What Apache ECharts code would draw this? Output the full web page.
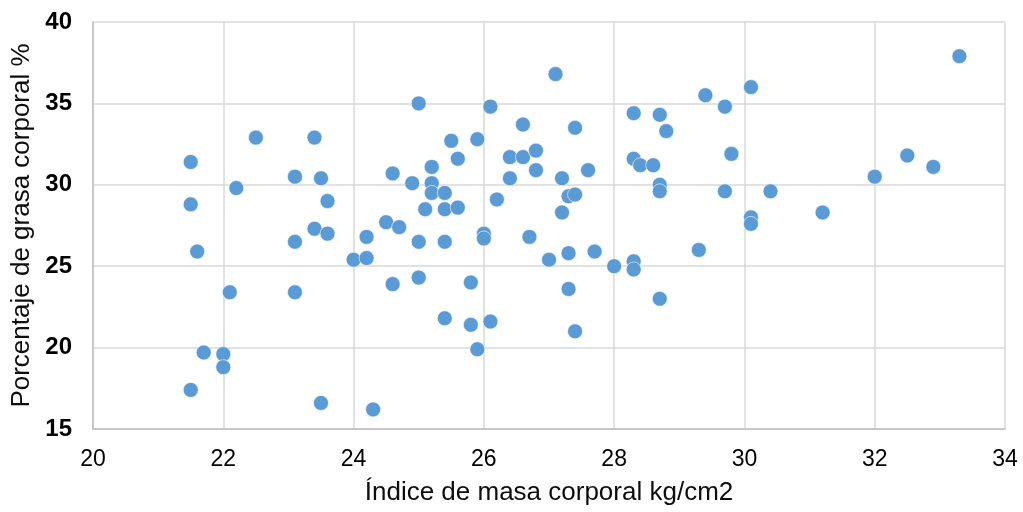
<!DOCTYPE html>
<html>
<head>
<meta charset="utf-8">
<script src="https://cdn.jsdelivr.net/npm/echarts@6/dist/echarts.min.js"></script>
<style>
html,body{margin:0;padding:0;background:#fff;}
#chart{width:1023px;height:512px;}
</style>
</head>
<body>
<div id="chart"></div>
<script>
const imc = [21.5,21.5,21.6,21.7,22.0,22.0,21.5,22.1,22.2,22.5,23.1,23.1,23.1,23.4,23.5,23.6,23.4,23.6,23.5,24.0,24.2,24.2,24.3,24.5,24.6,24.6,24.7,24.9,25.0,25.0,25.0,25.1,25.2,25.2,25.2,25.4,25.4,25.4,25.4,25.5,25.6,25.6,25.8,25.8,25.9,25.9,26.0,26.0,26.1,26.1,26.2,26.4,26.4,26.6,26.6,26.7,26.8,26.8,27.0,27.1,27.2,27.2,27.3,27.3,27.3,27.4,27.4,27.4,27.6,27.7,28.0,28.3,28.3,28.3,28.3,28.4,28.6,28.7,28.7,28.7,28.7,28.8,29.3,29.4,29.7,29.7,29.8,30.1,30.1,30.1,30.4,31.2,32.0,32.5,32.9,33.3];
const grasa = [31.4,28.8,25.9,19.7,19.6,18.8,17.4,23.4,29.8,32.9,30.5,26.5,23.4,32.9,30.4,29.0,27.3,27.0,16.6,25.4,26.8,25.5,16.2,27.7,30.7,23.9,27.4,30.1,35.0,26.5,24.3,28.5,31.1,30.1,29.5,29.5,28.5,26.5,21.8,32.7,31.6,28.6,24.0,21.4,32.8,19.9,27.0,26.7,34.8,21.6,29.1,31.7,30.4,33.7,31.7,26.8,32.1,30.9,25.4,36.8,30.4,28.3,29.3,25.8,23.6,33.5,29.4,21.0,30.9,25.9,25.0,34.4,31.6,25.3,24.8,31.2,31.2,34.3,30.0,29.6,23.0,33.3,26.0,35.5,34.8,29.6,31.9,36.0,28.0,27.6,29.6,28.3,30.5,31.8,31.1,37.9];
const xTitle = "Índice de masa corporal kg/cm2";
const yTitle = "Porcentaje de grasa corporal %";

const chart = echarts.init(document.getElementById('chart'), null, {renderer:'canvas'});
const font = "Liberation Sans, Arial, sans-serif";
chart.setOption({
  animation:false,
  grid:{left:93,right:18,top:22,bottom:83,containLabel:false},
  xAxis:{
    type:'value',min:20,max:34,interval:2,
    name:xTitle,nameLocation:'middle',nameGap:51,
    nameTextStyle:{fontFamily:font,fontSize:26,color:'#0d0d0d'},
    axisLine:{show:true,lineStyle:{color:'#bfbfbf',width:1.5}},
    axisTick:{show:false},
    axisLabel:{fontFamily:font,fontSize:23,color:'#000',margin:19},
    splitLine:{show:true,lineStyle:{color:'#d9d9d9',width:1.5}}
  },
  yAxis:{
    type:'value',min:15,max:40,interval:5,
    name:yTitle,nameLocation:'middle',nameGap:52,
    nameTextStyle:{fontFamily:font,fontSize:26,color:'#0d0d0d'},
    axisLine:{show:true,lineStyle:{color:'#bfbfbf',width:1.5}},
    axisTick:{show:false},
    axisLabel:{fontFamily:font,fontSize:24,fontWeight:'bold',color:'#000',margin:21},
    splitLine:{show:true,lineStyle:{color:'#d9d9d9',width:1.5}}
  },
  series:[{
    type:'scatter',
    data:imc.map((x,i)=>[x,grasa[i]]),
    symbol:'circle',symbolSize:15,
    itemStyle:{color:'#5b9bd5',opacity:1,borderColor:'#ffffff',borderWidth:0.6}
  }]
});
</script>
</body>
</html>
